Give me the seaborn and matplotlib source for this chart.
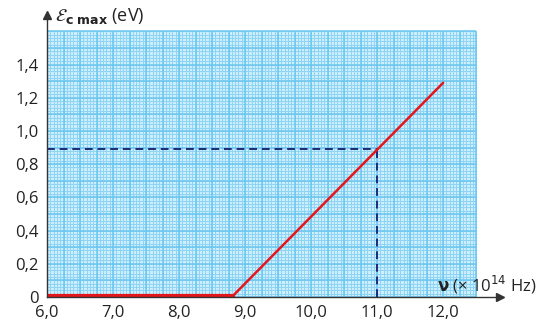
import numpy as np
import pandas as pd
import matplotlib
matplotlib.use('Agg')
import matplotlib.pyplot as plt
import seaborn as sns

# data
nu_flat = [6.0, 8.8]          # x 10^14 Hz
E_flat = [0.0, 0.0]           # eV
nu_slope = [8.8, 12.0]
E_slope = [0.0, 1.29]
nu_read = 11.0
E_read = 0.89

x_ticks = [6.0, 7.0, 8.0, 9.0, 10.0, 11.0, 12.0]
x_labels = ['6,0', '7,0', '8,0', '9,0', '10,0', '11,0', '12,0']
y_ticks = [0, 0.2, 0.4, 0.6, 0.8, 1.0, 1.2, 1.4]
y_labels = ['0', '0,2', '0,4', '0,6', '0,8', '1,0', '1,2', '1,4']

sns.set_style('white')
plt.rcParams['font.family'] = ['Open Sans', 'DejaVu Sans']
plt.rcParams['mathtext.fontset'] = 'dejavusans'

fig = plt.figure(figsize=(5.53, 3.22), dpi=100)
ax = fig.add_axes([0.085, 0.078, 0.819, 0.876])
ax.set_xlim(6.0, 12.86)
ax.set_ylim(0, 1.70)

# graph paper
gx0, gx1, gy0, gy1 = 6.0, 12.5, 0.0, 1.6
ax.add_patch(plt.Rectangle((gx0, gy0), gx1 - gx0, gy1 - gy0, color='#cdeefc', zorder=0, lw=0))
ax.vlines(np.arange(gx0, gx1 + 1e-6, 0.05), gy0, gy1, color='#8fd4f4', lw=0.7, zorder=1)
ax.hlines(np.arange(gy0, gy1 + 1e-6, 0.02), gx0, gx1, color='#8fd4f4', lw=0.7, zorder=1)
ax.vlines(np.arange(gx0, gx1 + 1e-6, 0.25), gy0, gy1, color='#6cc6f0', lw=1.1, zorder=1)
ax.hlines(np.arange(gy0, gy1 + 1e-6, 0.1), gx0, gx1, color='#6cc6f0', lw=1.1, zorder=1)

# reading lines
ax.plot([gx0, nu_read], [E_read, E_read], ls=(0, (4, 2.5)), color='#1f2a78', lw=1.4, zorder=3)
ax.plot([nu_read, nu_read], [0, E_read], ls=(0, (4, 2.5)), color='#1f2a78', lw=1.4, zorder=3)

sns.lineplot(x=nu_flat, y=E_flat, ax=ax, color='#e3161b', lw=4.5, zorder=4)
sns.lineplot(x=nu_slope, y=E_slope, ax=ax, color='#e3161b', lw=1.8, zorder=4)

for s in ['top', 'right']:
    ax.spines[s].set_visible(False)
for s in ['left', 'bottom']:
    ax.spines[s].set_color('#333333')
    ax.spines[s].set_linewidth(1.0)
    ax.spines[s].set_zorder(5)

# arrow heads
ax.plot(1, 0, '>', color='#333333', ms=6, transform=ax.transAxes, clip_on=False)
ax.plot(0, 1, '^', color='#333333', ms=6, transform=ax.transAxes, clip_on=False)

ax.set_xticks(x_ticks)
ax.set_xticklabels(x_labels)
ax.set_xticks(np.arange(6.5, 12.6, 1.0), minor=True)
ax.set_yticks(y_ticks)
ax.set_yticklabels(y_labels)
ax.tick_params(axis='both', which='both', direction='out', length=4, width=1, color='#333333',
               labelsize=12, labelcolor='#222222', pad=2)

ax.text(6.12, 1.66, r'$\mathcal{E}_{\mathbf{c\ max}}$ (eV)', fontsize=13, color='#222222',
        va='baseline', ha='left', clip_on=False)
ax.text(11.9, 0.035, r'$\mathbf{\nu}$ (× 10$^{14}$ Hz)', fontsize=12, color='#222222',
        ha='left', va='baseline')

fig.savefig('out.png', dpi=100)
